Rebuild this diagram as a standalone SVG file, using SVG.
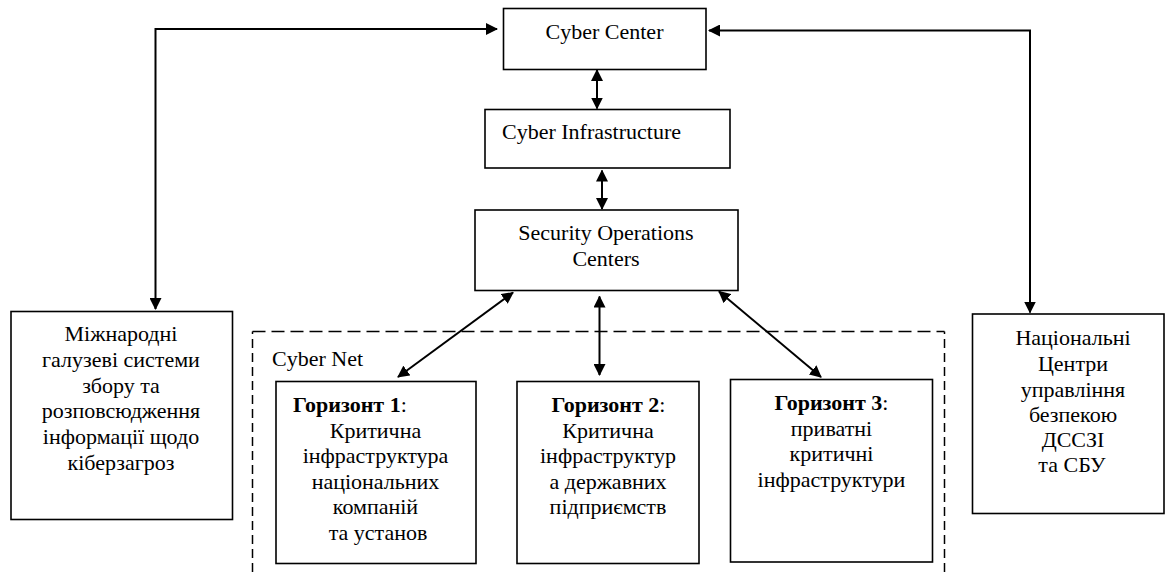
<svg xmlns="http://www.w3.org/2000/svg" width="1165" height="572" viewBox="0 0 1165 572">
<style>
  .box { fill: #fff; stroke: #000; stroke-width: 1.6; }
  .t { font-family: "Liberation Serif", "Times New Roman", serif; font-size: 22px; fill: #000; }
  .c { text-anchor: middle; }
  .b { font-weight: bold; }
  .con { fill: none; stroke: #000; stroke-width: 2; marker-start: url(#ah); marker-end: url(#ah); }
  .dash { fill: none; stroke: #000; stroke-width: 1.5; }
</style>
<defs>
  <marker id="ah" viewBox="0 0 12 12" refX="11" refY="6" markerWidth="12" markerHeight="12" markerUnits="userSpaceOnUse" orient="auto-start-reverse">
    <path d="M0,0 L12,6 L0,12 z" fill="#000"/>
  </marker>
</defs>
<rect width="1165" height="572" fill="#fff"/>

<g id="cybernet">
  <path class="dash" d="M252.5,572 V331.5" stroke-dasharray="9,5"/>
  <path class="dash" d="M944.5,572 V331.5" stroke-dasharray="9,5"/>
  <path class="dash" d="M252.5,331.5 H944.5" stroke-dasharray="13,6"/>
  <text class="t" x="272" y="366">Cyber Net</text>
</g>

<g id="connectors">
  <path class="con" d="M155.5,309 V29 H497"/>
  <path class="con" d="M1030,312.5 V30.5 H709"/>
  <path class="con" d="M597,70 V108.5"/>
  <path class="con" d="M602,170.5 V209"/>
  <path class="con" d="M513,292.5 L398,377"/>
  <path class="con" d="M599.5,296.5 V375"/>
  <path class="con" d="M719,291.5 L821,377"/>
</g>

<g id="cyber-center">
  <rect class="box" x="503.5" y="8.5" width="202.5" height="61"/>
  <text class="t c" x="604.5" y="39.3">Cyber Center</text>
</g>

<g id="cyber-infrastructure">
  <rect class="box" x="485" y="109.5" width="245" height="58.5"/>
  <text class="t" x="502" y="139.3">Cyber Infrastructure</text>
</g>

<g id="soc">
  <rect class="box" x="475" y="210" width="263" height="80.5"/>
  <text class="t c" x="606" y="240">Security Operations</text>
  <text class="t c" x="606" y="266">Centers</text>
</g>

<g id="international">
  <rect class="box" x="11" y="311.5" width="221.5" height="208"/>
  <text class="t c" x="121" y="341">Міжнародні</text>
  <text class="t c" x="121" y="367">галузеві системи</text>
  <text class="t c" x="121" y="392.5">збору та</text>
  <text class="t c" x="121" y="418">розповсюдження</text>
  <text class="t c" x="121" y="444">інформації щодо</text>
  <text class="t c" x="121" y="469.5">кіберзагроз</text>
</g>

<g id="horizon1">
  <rect class="box" x="276" y="381.5" width="200" height="182"/>
  <text class="t" x="293" y="412"><tspan class="b">Горизонт 1</tspan>:</text>
  <text class="t c" x="375.5" y="437.5">Критична</text>
  <text class="t c" x="375.5" y="463">інфраструктура</text>
  <text class="t c" x="375.5" y="488.5">національних</text>
  <text class="t c" x="375.5" y="514">компаній</text>
  <text class="t c" x="378" y="539.5">та установ</text>
</g>

<g id="horizon2">
  <rect class="box" x="517" y="381.5" width="182" height="182"/>
  <text class="t c" x="608.5" y="412"><tspan class="b">Горизонт 2</tspan>:</text>
  <text class="t c" x="608" y="438">Критична</text>
  <text class="t c" x="608" y="463">інфраструктур</text>
  <text class="t c" x="608" y="488.5">а державних</text>
  <text class="t c" x="608" y="514">підприємств</text>
</g>

<g id="horizon3">
  <rect class="box" x="730.5" y="379.5" width="202" height="182.5"/>
  <text class="t c" x="831.5" y="410"><tspan class="b">Горизонт 3</tspan>:</text>
  <text class="t c" x="831.5" y="435.5">приватні</text>
  <text class="t c" x="831.5" y="461">критичні</text>
  <text class="t c" x="831.5" y="486.5">інфраструктури</text>
</g>

<g id="national">
  <rect class="box" x="972.5" y="314" width="191.5" height="199.5"/>
  <text class="t c" x="1073" y="345">Національні</text>
  <text class="t c" x="1073" y="370.7">Центри</text>
  <text class="t c" x="1073" y="396.5">управління</text>
  <text class="t c" x="1073" y="421.7">безпекою</text>
  <text class="t c" x="1073" y="446.7">ДССЗІ</text>
  <text class="t c" x="1072" y="471.7">та СБУ</text>
</g>
</svg>
